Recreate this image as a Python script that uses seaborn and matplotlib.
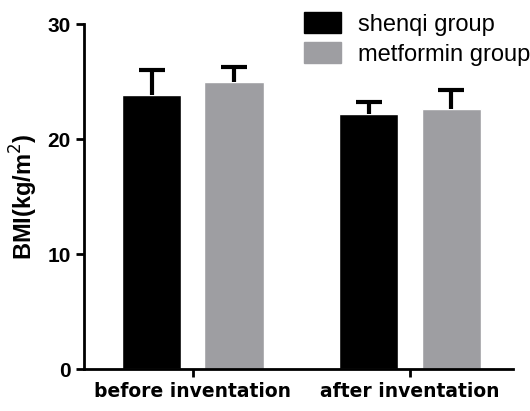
import matplotlib
matplotlib.use("Agg")
import matplotlib.pyplot as plt
import seaborn as sns
import pandas as pd
import numpy as np
from matplotlib.patches import Patch

periods = ["before inventation", "after inventation"]
groups = ["shenqi group", "metformin group"]
shenqi_mean = [23.8, 22.2]
metformin_mean = [25.0, 22.6]
shenqi_sd = [2.2, 1.0]
metformin_sd = [1.3, 1.7]
colors = ["#000000", "#9e9ea2"]

df = pd.DataFrame({
    "period": periods * 2,
    "group": [groups[0]] * 2 + [groups[1]] * 2,
    "bmi": shenqi_mean + metformin_mean,
})
sd_map = {(p, groups[0]): s for p, s in zip(periods, shenqi_sd)}
sd_map.update({(p, groups[1]): s for p, s in zip(periods, metformin_sd)})

sns.set_style("ticks")
plt.rcParams['font.family'] = ['Liberation Sans', 'DejaVu Sans']
plt.rcParams['text.color'] = 'black'
plt.rcParams['axes.labelcolor'] = 'black'
plt.rcParams['xtick.color'] = 'black'
plt.rcParams['ytick.color'] = 'black'

fig = plt.figure(figsize=(5.3, 4.11), dpi=100)
ax = fig.add_axes([0.1585, 0.102, 0.8095, 0.8396])

sns.barplot(data=df, x="period", y="bmi", hue="group", order=periods,
            hue_order=groups, palette=colors, width=0.76, gap=0.28,
            errorbar=None, ax=ax, legend=False, saturation=1)

# upper-only error bars from the bars
cap_half = 0.06
for cont, g in zip(ax.containers, groups):
    xs = np.array([b.get_x() + b.get_width() / 2 for b in cont])
    ys = np.array([b.get_height() for b in cont])
    errs = np.array([sd_map[(p, g)] for p in periods])
    ax.vlines(xs, ys, ys + errs, color="black", linewidth=3, zorder=3)
    ax.hlines(ys + errs, xs - cap_half, xs + cap_half, color="black",
              linewidth=3, zorder=3)

ax.set_ylim(0, 30)
ax.set_xlim(-0.502, 1.475)
ax.set_yticks([0, 10, 20, 30])
ax.set_xlabel("")
ax.set_ylabel("BMI(kg/m$^{2}$)", fontsize=17, fontweight="bold", labelpad=5)
sns.despine(ax=ax)
for s in ["left", "bottom"]:
    ax.spines[s].set_linewidth(2)
    ax.spines[s].set_color("black")
ax.tick_params(axis="both", width=2, length=6, color="black", labelcolor="black")
for lab in ax.get_yticklabels():
    lab.set_fontsize(15)
    lab.set_fontweight("bold")
for lab in ax.get_xticklabels():
    lab.set_fontsize(13.5)
    lab.set_fontweight("bold")
    lab.set_family("DejaVu Sans")

handles = [Patch(facecolor=c, edgecolor=c) for c in colors]
fig.legend(handles, groups, loc="upper left", bbox_to_anchor=(0.555, 0.993),
           frameon=False, fontsize=17, handlelength=1.6, handleheight=1.0,
           handletextpad=0.7, labelspacing=0.25, borderaxespad=0)

fig.savefig("out.png", dpi=100)
